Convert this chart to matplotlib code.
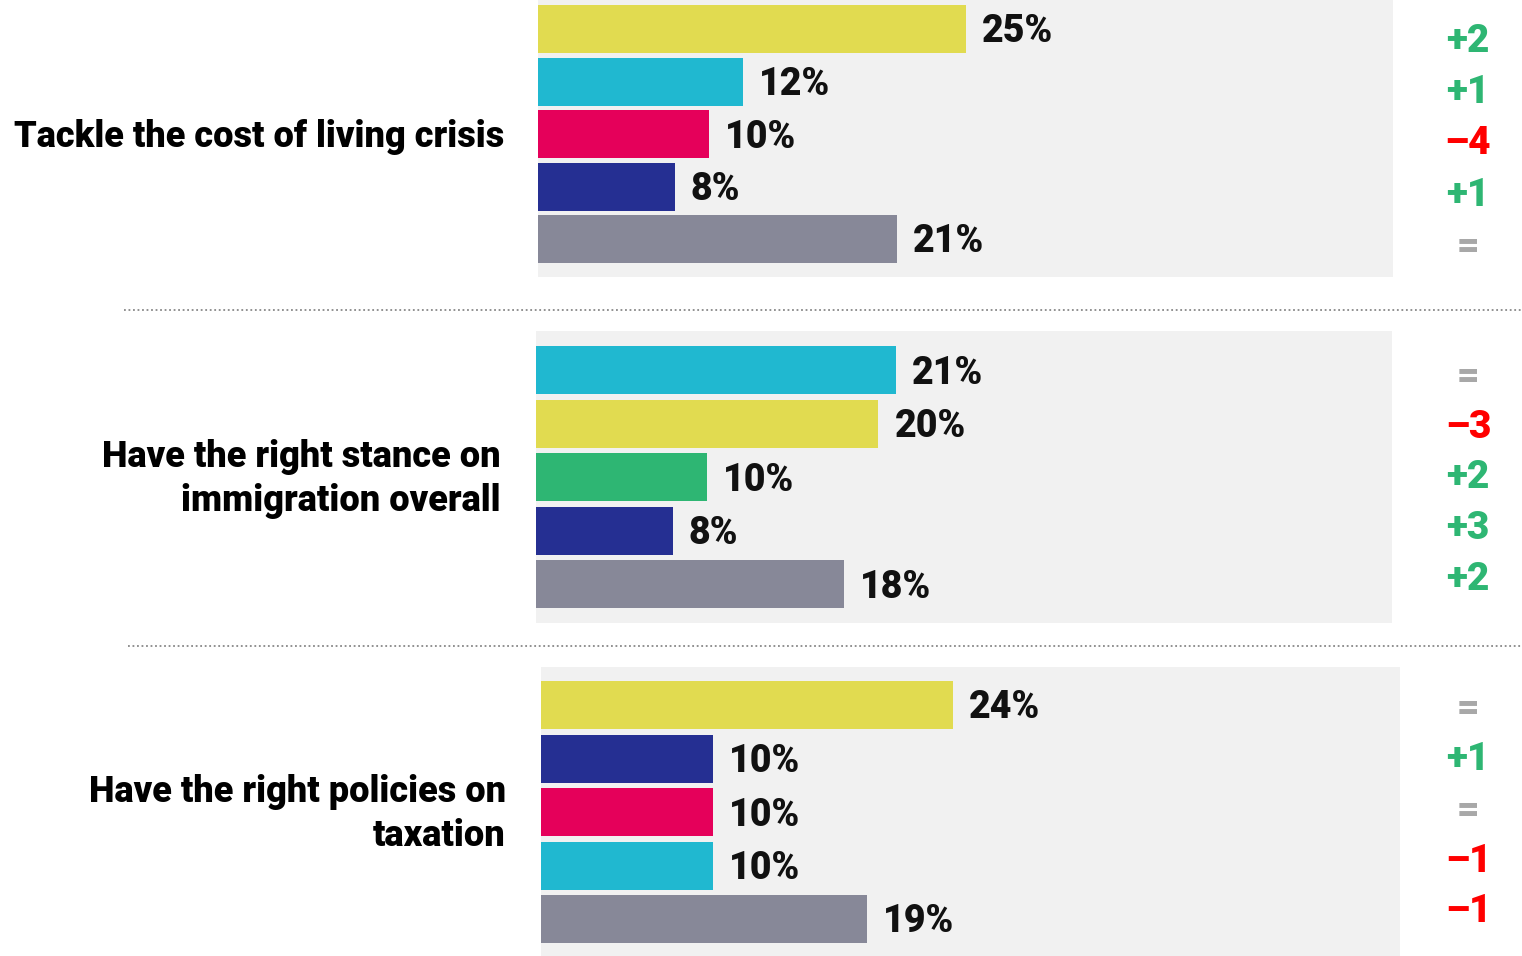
import matplotlib
matplotlib.use("Agg")
import matplotlib.pyplot as plt
import matplotlib.transforms as mtransforms
from matplotlib.lines import Line2D

# ---------------- data ----------------
questions = ["Tackle the cost of living crisis",
             "Have the right stance on\nimmigration overall",
             "Have the right policies on\ntaxation"]

values = [[25, 12, 10, 8, 21],
          [21, 20, 10, 8, 18],
          [24, 10, 10, 10, 19]]

changes = [["+2", "+1", "-4", "+1", "="],
           ["=", "-3", "+2", "+3", "+2"],
           ["=", "+1", "=", "-1", "-1"]]

YELLOW = "#E1DB50"
CYAN = "#20B8D0"
CRIMSON = "#E5005A"
NAVY = "#252F92"
GREY = "#878898"
GREEN = "#2EB673"

bar_colors = [[YELLOW, CYAN, CRIMSON, NAVY, GREY],
              [CYAN, YELLOW, GREEN, NAVY, GREY],
              [YELLOW, NAVY, CRIMSON, CYAN, GREY]]

# ---------------- layout (pixels) ----------------
W, H = 1522, 956
# left, right, top, bottom of each grey panel, first/last bar centre
panels = [(538, 1393, 0, 277, 29, 239),
          (536, 1392, 331, 623, 370, 584),
          (541, 1400, 667, 956, 705, 919)]
# first/last centre of the change column
change_rows = [(39, 245), (375, 577), (707, 910)]
label_right = [504, 501, 506]
label_mid = [135, 477, 812]
sep_lines = [(124, 310), (128, 646)]
XMAX = 50

plt.rcParams['font.family'] = ['Roboto', 'DejaVu Sans']
fig = plt.figure(figsize=(W / 100, H / 100), dpi=100)


def change_color(s):
    if s.startswith("+"):
        return GREEN
    if s.startswith("-"):
        return "#FF0000"
    return "#A8A8A8"


def fy(px):
    return 1 - px / H


for p in range(3):
    l, r, t, b, c0, c1 = panels[p]
    ax = fig.add_axes([l / W, 1 - b / H, (r - l) / W, (b - t) / H])
    ax.set_facecolor("#F1F1F1")
    pitch = (c1 - c0) / 4
    ylo = -(c0 - t) / pitch
    yhi = 4 + (b - c1) / pitch
    ys = list(range(5))
    ax.barh(ys, values[p], height=48 / pitch, color=bar_colors[p], left=0)
    ax.set_xlim(0, XMAX)
    ax.set_ylim(yhi, ylo)
    for s in ax.spines.values():
        s.set_visible(False)
    ax.set_xticks([])
    ax.set_yticks([])

    off = mtransforms.offset_copy(ax.transData, fig=fig, x=16, y=-3, units='dots')
    for y, v in zip(ys, values[p]):
        ax.text(v, y, f"{v}%", transform=off, ha="left", va="center",
                fontsize=27, fontweight=900, color="#111111")

    # change vs previous wave
    a, z = change_rows[p]
    for i, c in enumerate(changes[p]):
        txt = c.replace("-", "\u2013")
        fig.text(1468 / W, fy(a + i * (z - a) / 4 + 2), txt, ha="center",
                 va="center", fontsize=28, fontweight=900,
                 color=change_color(c))

    # question label
    fig.text(label_right[p] / W, fy(label_mid[p] + 2), questions[p],
             ha="right", va="center", fontsize=26, fontweight=900,
             color="#000000", linespacing=1.3)

# dotted separators
for x0, y in sep_lines:
    fig.add_artist(Line2D([x0 / W, 1], [fy(y), fy(y)],
                          transform=fig.transFigure, color="#888888",
                          linestyle=(0, (1, 1.5)), linewidth=1.3))

fig.savefig("out.png", dpi=100)
